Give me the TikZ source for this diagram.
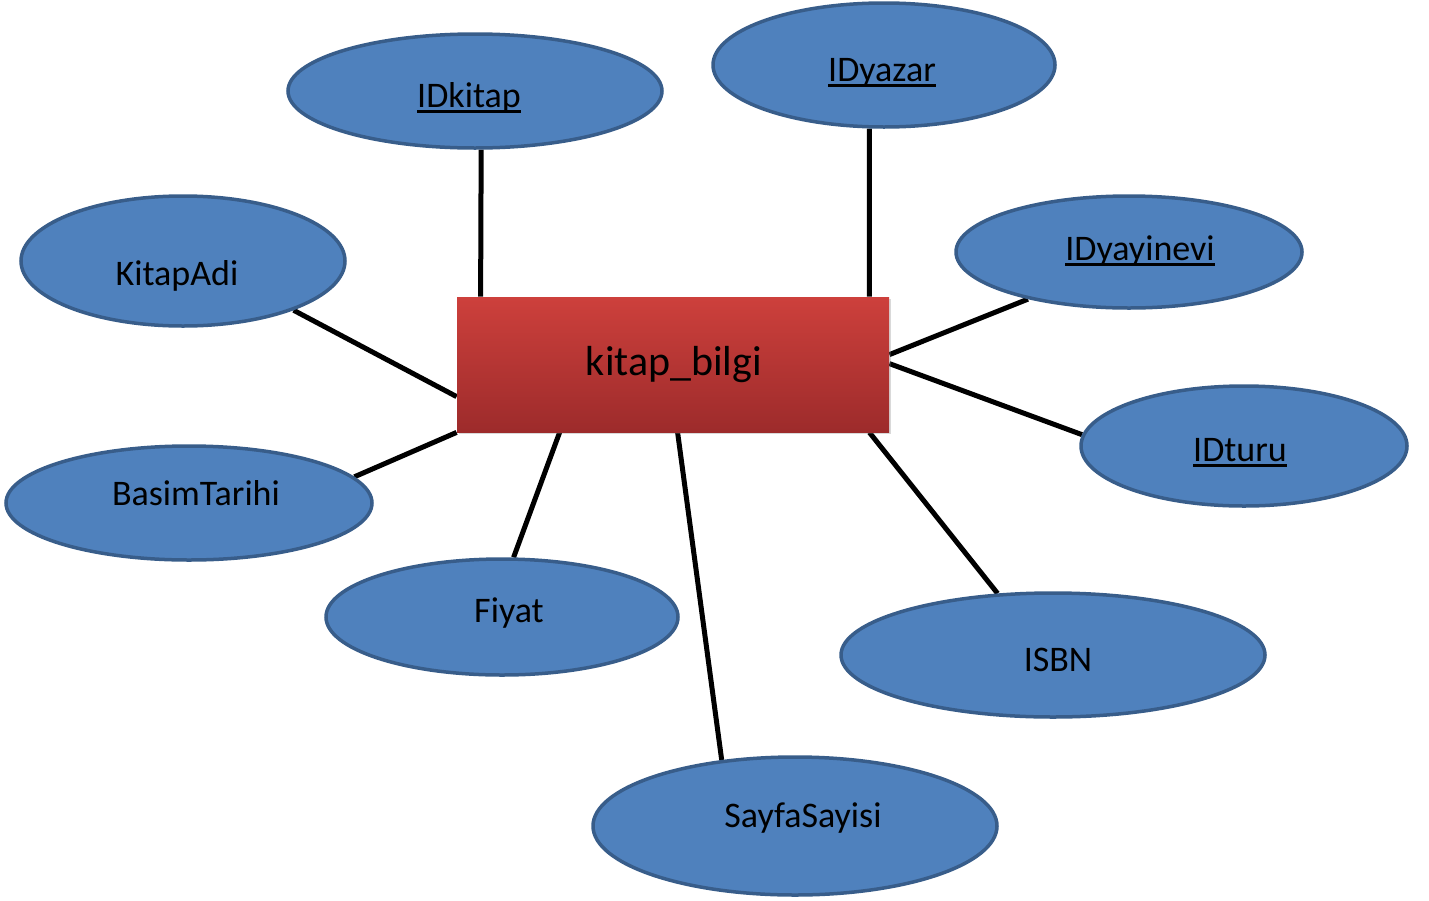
\documentclass[tikz,border=0pt]{standalone}
\usepackage{fontspec}
\setmainfont{Carlito}
\usetikzlibrary{shapes.geometric,shadows,calc,backgrounds}
\definecolor{ellfill}{HTML}{4F81BD}
\definecolor{elldraw}{HTML}{385D8A}
\definecolor{rtop}{HTML}{CD403C}
\definecolor{rbot}{HTML}{9D2B2B}
\newcommand{\keyul}[1]{\setbox0\hbox{#1}\rlap{\rule[-2.75pt]{\wd0}{1.4pt}}\box0}
\begin{document}
\begin{tikzpicture}[x=0.5pt,y=-0.5pt,
  attr/.style={ellipse, fill=ellfill, draw=elldraw, line width=1.75pt, inner sep=0pt},
  lbl/.style={font=\fontsize{18}{20}\selectfont, anchor=base, inner sep=0pt},
  ent/.style={rectangle, top color=rtop, bottom color=rbot, minimum width=216pt, minimum height=67.5pt, inner sep=0pt,
    drop shadow={opacity=0.3,shadow xshift=1pt,shadow yshift=-1pt}},
  link/.style={line width=2.5pt, black}]
\useasboundingbox (0,0) rectangle (1429,900);

\node[ent] (kb) at (673,364.5) {};
\node[font=\fontsize{21}{24}\selectfont, anchor=base, inner sep=0pt] (kbt) at (674,375) {kitap\_bilgi};

\node[attr, minimum width=187pt, minimum height=57pt] (idkitap) at (475,91) {};
\node[attr, minimum width=171pt, minimum height=62pt] (idyazar) at (884,65) {};
\node[attr, minimum width=162pt, minimum height=65pt] (kitapadi) at (183,261) {};
\node[attr, minimum width=173pt, minimum height=56pt] (idyayinevi) at (1129,252) {};
\node[attr, minimum width=183pt, minimum height=57pt] (basim) at (189,503) {};
\node[attr, minimum width=163pt, minimum height=60pt] (idturu) at (1244,446) {};
\node[attr, minimum width=176pt, minimum height=58pt] (fiyat) at (502,617) {};
\node[attr, minimum width=212pt, minimum height=62pt] (isbn) at (1053,655) {};
\node[attr, minimum width=202pt, minimum height=69pt] (sayfa) at (795,826) {};

\node[lbl] (idkitapt) at (469,107) {\keyul{IDkitap}};
\node[lbl] (idyazart) at (882,81) {\keyul{IDyazar}};
\node[lbl] (kitapadit) at (177,285) {KitapAdi};
\node[lbl] (idyayinevit) at (1140,260) {\keyul{IDyayinevi}};
\node[lbl] (basimt) at (196,505) {BasimTarihi};
\node[lbl] (idturut) at (1240,461) {\keyul{IDturu}};
\node[lbl] (fiyatt) at (509,622) {Fiyat};
\node[lbl] (isbnt) at (1058,671) {ISBN};
\node[lbl] (sayfat) at (803,827) {SayfaSayisi};

\begin{scope}[on background layer]
\draw[link] ($(kb.north west)+(24,0)$) -- (idkitap.-84);
\draw[link] ($(kb.north east)+(-20,0)$) -- (idyazar.-103);
\draw[link] ($(kb.north west)+(0,100)$) -- (kitapadi.-24.5);
\draw[link] ($(kb.north east)+(0,58)$) -- (idyayinevi.-155);
\draw[link] ($(kb.north east)+(0,67)$) -- (idturu.176.5);
\draw[link] (kb.south west) -- (basim.9.3);
\draw[link] ($(kb.south west)+(103,0)$) -- (fiyat.79.6);
\draw[link] ($(kb.south west)+(221,0)$) -- (sayfa.138);
\draw[link] ($(kb.south east)+(-20,0)$) -- (isbn.132.5);
\end{scope}
\end{tikzpicture}
\end{document}
